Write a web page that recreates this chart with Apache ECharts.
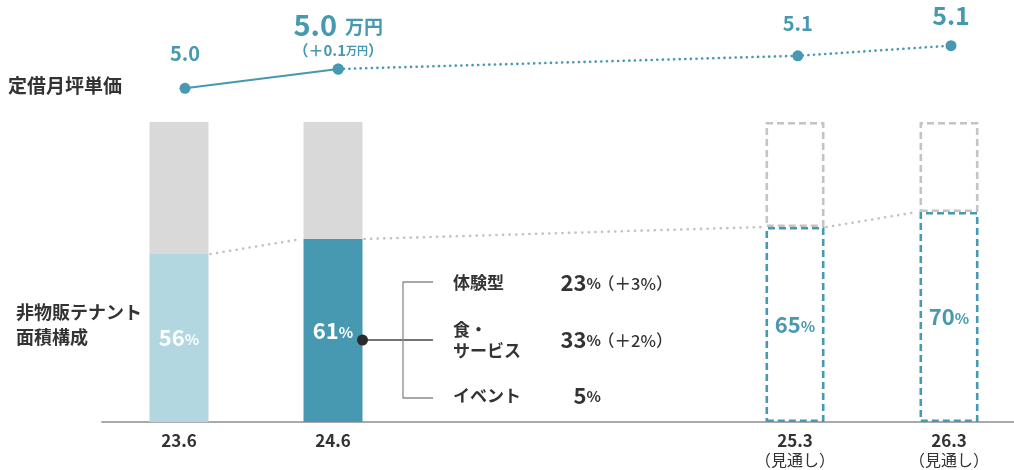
<!DOCTYPE html>
<html><head><meta charset="utf-8">
<script src="https://cdn.jsdelivr.net/npm/echarts@6/dist/echarts.min.js"></script>
<style>html,body{margin:0;padding:0;background:#fff;overflow:hidden}#c{width:1040px;height:470px}</style>
</head><body><div id="c"></div>
<script>
// ---- data ----
const categories = ['23.6', '24.6', ' ', '  ', '25.3', '26.3'];
const isForecast = [false, false, false, false, true, true];
const forecastNote = '（見通し）';
const nonRetailShare = [56, 61, null, null, 65, 70];      // 非物販テナント面積構成 (%)
const rentValues = [4.96, 5.04, null, null, 5.095, 5.137]; // 定借月坪単価 (万円), plotted
const rentLabels = ['5.0', '5.0', '', '', '5.1', '5.1'];
const rentChange = '＋0.1';
const breakdownNames = ['体験型', '食・\nサービス', 'イベント'];
const breakdownValues = [23, 33, 5];
const breakdownDiffs = ['（＋3%）', '（＋2%）', ''];

// ---- style ----
const FONT = '"Noto Sans CJK JP","Noto Sans",sans-serif';
const TEAL = '#4699b0', LIGHT = '#b3d7e0', GRAY = '#d9d9d9', DGRAY = '#c4c4c4', DARK = '#333333';
const BAR_W = 59;

const chart = echarts.init(document.getElementById('c'), null, {renderer: 'canvas'});

const shareData = nonRetailShare.map((v, i) => {
  if (v == null) return '-';
  const fc = isForecast[i];
  return {
    value: v,
    itemStyle: fc ? {color: '#fff', borderColor: TEAL, borderWidth: 2.6, borderType: [7, 4]}
                  : {color: i === 0 ? LIGHT : TEAL},
    label: {color: fc ? TEAL : '#fff'}
  };
});
const restData = nonRetailShare.map((v, i) => {
  if (v == null) return '-';
  const fc = isForecast[i];
  return {
    value: 100 - v,
    itemStyle: fc ? {color: '#fff', borderColor: DGRAY, borderWidth: 2.6, borderType: [7, 4]}
                  : {color: GRAY}
  };
});

const shareIdx = nonRetailShare.map((v, i) => v == null ? null : i).filter(i => i != null);
const connectorData = [];
for (let k = 0; k < shareIdx.length - 1; k++) {
  const a = shareIdx[k], b = shareIdx[k + 1];
  connectorData.push([a, nonRetailShare[a], b, nonRetailShare[b]]);
}

const rentIdx = rentValues.map((v, i) => v == null ? null : i).filter(i => i != null);
function rentLabel(i) {
  if (i === 1) {
    return {show: true, position: 'top', distance: 5.5,
      formatter: '{a|' + rentLabels[i] + '}{u|万円}\n{s|（' + rentChange + '}{su|万円}{s|）}'};
  }
  if (i === rentIdx[rentIdx.length - 1]) {
    return {show: true, position: 'top', distance: 12, formatter: '{b|' + rentLabels[i] + '}'};
  }
  return {show: true, position: 'top', distance: i === 0 ? 19 : 17, formatter: '{m|' + rentLabels[i] + '}'};
}
const solidData = rentValues.map((v, i) => (i <= 1 && v != null) ? {value: v, label: rentLabel(i)} : '-');
const dottedData = rentValues.map((v, i) => (i >= 1 && v != null) ? {value: v, label: i >= 2 ? rentLabel(i) : {show: false}} : '-');

const labelRich = {
  m: {fontSize: 20, fontWeight: 'bold', color: TEAL, fontFamily: FONT},
  b: {fontSize: 25, fontWeight: 'bold', color: TEAL, fontFamily: FONT},
  a: {fontSize: 29, fontWeight: 'bold', color: TEAL, fontFamily: FONT, lineHeight: 34},
  u: {fontSize: 19, fontWeight: 'bold', color: TEAL, fontFamily: FONT, lineHeight: 34, padding: [4, 0, 0, 8]},
  s: {fontSize: 15, fontWeight: 'bold', color: TEAL, fontFamily: FONT, lineHeight: 16},
  su: {fontSize: 11, fontWeight: 'bold', color: TEAL, fontFamily: FONT, lineHeight: 16, padding: [2, 0, 0, 0]}
};

const option = {
  animation: false,
  backgroundColor: '#fff',
  textStyle: {fontFamily: FONT},
  grid: [
    {left: 102, top: 122, width: 924, height: 300},
    {left: 108.4, top: 6.36, width: 919.2, height: 168.7}
  ],
  xAxis: [
    {type: 'category', gridIndex: 0, data: categories,
      axisLine: {lineStyle: {color: '#aaaaaa', width: 2}}, axisTick: {show: false},
      axisLabel: {interval: 0, margin: 9,
        formatter: (val, i) => isForecast[i] ? '{a|' + val + '}\n{b|' + forecastNote + '}' : '{a|' + val + '}',
        rich: {
          a: {fontSize: 17, fontWeight: 'bold', color: DARK, fontFamily: FONT, lineHeight: 19},
          b: {fontSize: 16, color: DARK, fontFamily: FONT, lineHeight: 19}
        }}},
    {type: 'category', gridIndex: 1, data: categories, show: false}
  ],
  yAxis: [
    {type: 'value', gridIndex: 0, min: 0, max: 100, show: false},
    {type: 'value', gridIndex: 1, min: 4.6, max: 5.3, show: false}
  ],
  series: [
    {type: 'custom', xAxisIndex: 0, yAxisIndex: 0, data: connectorData, encode: {x: 0, y: 1}, z: 1,
      renderItem: (params, api) => {
        const p = api.coord([api.value(0), api.value(1)]);
        const q = api.coord([api.value(2), api.value(3)]);
        const hw = BAR_W / 2;
        return {type: 'line', shape: {x1: p[0] + hw + 2, y1: p[1], x2: q[0] - hw - 2, y2: q[1]},
          style: {stroke: '#c2c2c2', lineWidth: 2.6, lineDash: [0.1, 6.5], lineCap: 'round'}};
      }},
    {name: 'share', type: 'bar', stack: 's', xAxisIndex: 0, yAxisIndex: 0, barWidth: BAR_W, data: shareData,
      label: {show: true, position: 'inside', formatter: p => '{n|' + p.value + '}{p|%}',
        rich: {n: {fontSize: 22, fontWeight: 'bold', fontFamily: FONT}, p: {fontSize: 15, fontWeight: 'bold', fontFamily: FONT, padding: [3, 0, 0, 0]}}}},
    {name: 'rest', type: 'bar', stack: 's', xAxisIndex: 0, yAxisIndex: 0, barWidth: BAR_W, data: restData},
    {name: 'rentSolid', type: 'line', xAxisIndex: 1, yAxisIndex: 1, data: solidData,
      symbol: 'circle', symbolSize: 11, itemStyle: {color: TEAL},
      lineStyle: {color: TEAL, width: 2}, label: {rich: labelRich}, z: 5},
    {name: 'rentForecast', type: 'line', xAxisIndex: 1, yAxisIndex: 1, data: dottedData, connectNulls: true,
      symbol: 'circle', symbolSize: 11, itemStyle: {color: TEAL},
      lineStyle: {color: TEAL, width: 2.6, type: [0.1, 5.5], cap: 'round'}, label: {rich: labelRich}, z: 4}
  ],
  graphic: []
};
chart.setOption(option);

// ---- annotations (side titles, breakdown bracket) ----
const g = [];
g.push({type: 'text', left: 8, top: 76, style: {text: '定借月坪単価', font: 'bold 19px ' + FONT, fill: DARK}});
g.push({type: 'text', left: 16, top: 300, style: {text: '非物販テナント\n面積構成', font: 'bold 18px ' + FONT, fill: DARK, lineHeight: 25}});

const bar2 = chart.convertToPixel({xAxisIndex: 0, yAxisIndex: 0}, [1, 0]);
const dotX = bar2[0] + BAR_W / 2;
const rowsY = [283, 340, 396];
const brX = 403, tickX2 = 433;
g.push({type: 'line', shape: {x1: dotX, y1: rowsY[1], x2: tickX2, y2: rowsY[1]}, style: {stroke: '#444', lineWidth: 1.3}, z: 10});
g.push({type: 'polyline', shape: {points: [[tickX2, rowsY[0] - 1], [brX, rowsY[0] - 1], [brX, rowsY[2] + 2], [tickX2, rowsY[2] + 2]]},
  style: {stroke: '#8c8c8c', lineWidth: 1.3, fill: null}, z: 10});
g.push({type: 'circle', shape: {cx: dotX, cy: rowsY[1], r: 5.5}, style: {fill: '#2b2b2b'}, z: 11});
breakdownNames.forEach((name, k) => {
  g.push({type: 'text', x: 453, y: rowsY[k], style: {text: name, font: 'bold 17px ' + FONT, fill: DARK,
    verticalAlign: 'middle', lineHeight: 21}, z: 10});
  g.push({type: 'text', x: 601, y: rowsY[k], style: {text: '{n|' + breakdownValues[k] + '}{p|%}', align: 'right', verticalAlign: 'middle',
    rich: {n: {font: 'bold 22px ' + FONT, fill: DARK}, p: {font: 'bold 15px ' + FONT, fill: DARK}}}, z: 10});
  if (breakdownDiffs[k]) {
    g.push({type: 'text', x: 598, y: rowsY[k] + 1, style: {text: breakdownDiffs[k], font: '500 16.5px ' + FONT, fill: DARK,
      verticalAlign: 'middle'}, z: 10});
  }
});
chart.setOption({graphic: g});
</script>
</body></html>
